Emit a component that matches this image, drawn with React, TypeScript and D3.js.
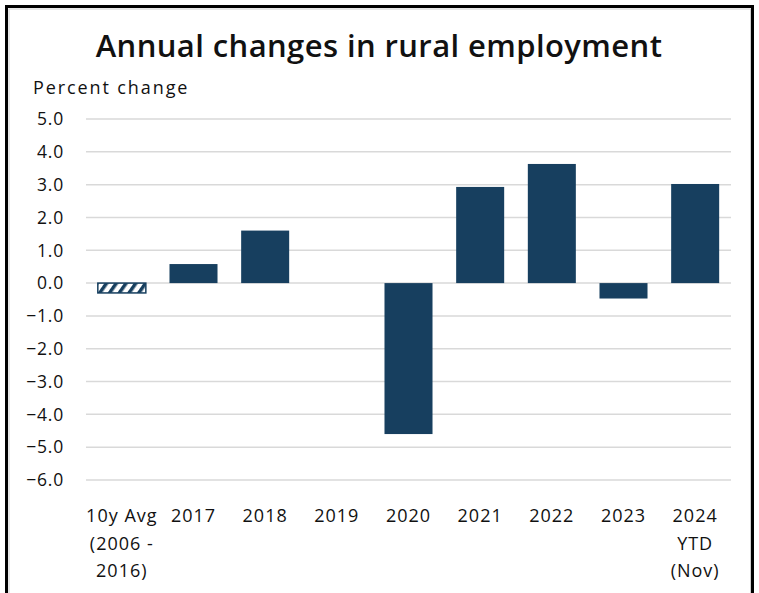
import React from "react";
import * as d3 from "d3";

const categories: string[][] = [
  ["10y Avg", "(2006 -", "2016)"],
  ["2017"],
  ["2018"],
  ["2019"],
  ["2020"],
  ["2021"],
  ["2022"],
  ["2023"],
  ["2024", "YTD", "(Nov)"],
];
const values: number[] = [-0.3, 0.58, 1.6, 0, -4.6, 2.93, 3.63, -0.47, 3.02];
const hatched: boolean[] = [true, false, false, false, false, false, false, false, false];
const yTicks: number[] = [5, 4, 3, 2, 1, 0, -1, -2, -3, -4, -5, -6];
const title = "Annual changes in rural employment";
const yAxisTitle = "Percent change";

const W = 759;
const H = 593;
const FONT = "'Open Sans', Lato, sans-serif";
const BAR = "#173f5f";

export default function App() {
  const x = d3
    .scaleBand<number>()
    .domain(categories.map((_, i) => i))
    .range([86, 731])
    .paddingInner(0.33)
    .paddingOuter(0.165);
  const y = d3.scaleLinear().domain([-6, 5]).range([480, 119]);

  return (
    <svg
      width={W}
      height={H}
      style={{ position: "absolute", left: 0, top: 0, background: "#fff" }}
    >
      <defs>
        <pattern
          id="hatch"
          patternUnits="userSpaceOnUse"
          width={8}
          height={8}
          patternTransform="rotate(35)"
        >
          <rect width={8} height={8} fill="#fff" />
          <rect width={3.5} height={8} fill={BAR} />
        </pattern>
      </defs>
      <rect x={0} y={0} width={W} height={H} fill="#fff" />
      {/* frame */}
      <rect x={9} y={9} width={741.5} height={H} fill="none" stroke="#cfcfcf" strokeWidth={1} />
      <rect x={6.5} y={6.5} width={746} height={H + 10} fill="none" stroke="#000" strokeWidth={3} />

      <text
        x={379}
        y={57}
        textAnchor="middle"
        fontFamily={FONT}
        fontSize={31}
        fontWeight={600}
        letterSpacing={0.4}
        fill="#111"
      >
        {title}
      </text>
      <text x={33} y={94} fontFamily={FONT} fontSize={18} letterSpacing={1.9} fill="#111">
        {yAxisTitle}
      </text>

      {yTicks.map((t) => (
        <g key={t}>
          <line
            x1={86}
            x2={731}
            y1={y(t)}
            y2={y(t)}
            stroke="#d9d9d9"
            strokeWidth={1.5}
          />
          <text
            x={64}
            y={y(t)}
            dy="0.36em"
            textAnchor="end"
            fontFamily={FONT}
            fontSize={17.5}
            letterSpacing={0.8}
            fill="#111"
          >
            {d3.format(".1f")(t)}
          </text>
        </g>
      ))}

      {values.map((v, i) => {
        const y0 = y(Math.max(0, v));
        const h = Math.abs(y(v) - y(0));
        if (h === 0) return null;
        return hatched[i] ? (
          <rect
            key={i}
            x={x(i)!}
            y={y0}
            width={x.bandwidth()}
            height={h}
            fill="url(#hatch)"
            stroke={BAR}
            strokeWidth={1.5}
          />
        ) : (
          <rect
            key={i}
            x={x(i)!}
            y={y0}
            width={x.bandwidth()}
            height={h}
            fill={BAR}
          />
        );
      })}

      {categories.map((lines, i) => (
        <text
          key={i}
          x={x(i)! + x.bandwidth() / 2}
          y={522}
          textAnchor="middle"
          fontFamily={FONT}
          fontSize={18}
          letterSpacing={1}
          fill="#111"
        >
          {lines.map((l, j) => (
            <tspan key={j} x={x(i)! + x.bandwidth() / 2} y={522 + j * 27.5}>
              {l}
            </tspan>
          ))}
        </text>
      ))}
    </svg>
  );
}
